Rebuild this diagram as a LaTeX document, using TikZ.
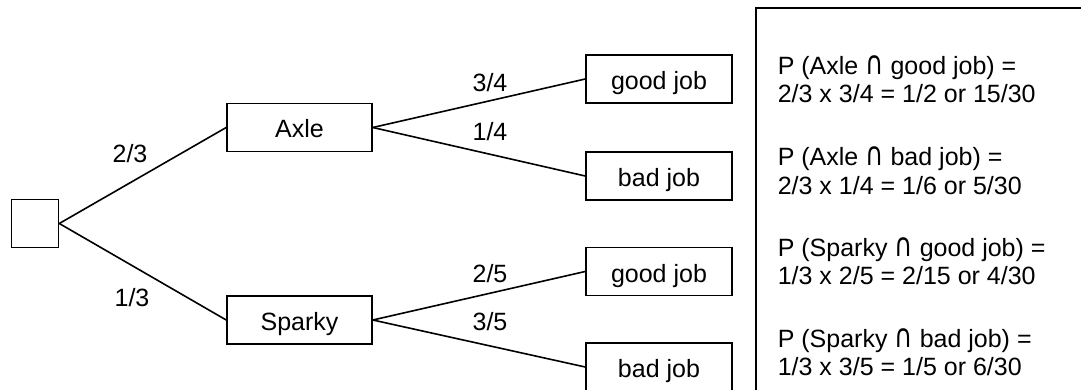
\documentclass[tikz,border=0pt]{standalone}
\usepackage{fontspec}
\setmainfont{Liberation Sans}
\newfontfamily\dejavu{DejaVu Sans}
% intersection sign stretched to cap height
\newcommand{\isect}{\scalebox{1}[1.3]{\dejavu ∩}}
\begin{document}
\begin{tikzpicture}[x=1pt, y=-1pt,
  font=\fontsize{25}{28}\selectfont,
  line width=1.6pt,
  box/.style={draw, rectangle, inner sep=0pt, text height=21pt, text depth=0pt,
              minimum width=146pt, minimum height=48pt},
  prob/.style={inner sep=0pt},
  calc/.style={anchor=base west, inner sep=0pt}]
\useasboundingbox (0,0) rectangle (1081,390);
\clip (0,0) rectangle (1081,390);

% tree nodes
\node[draw, rectangle, minimum width=47pt, minimum height=48pt, inner sep=0pt] (root) at (35,223.5) {};
\node[box, minimum width=145pt] (axle)   at (299.5,127.5) {Axle};
\node[box, minimum width=145pt] (sparky) at (299.5,320)   {Sparky};
\node[box] (ag) at (659,79)    {good job};
\node[box] (ab) at (659,176)   {bad job};
\node[box] (sg) at (659,271.5) {good job};
\node[box] (sb) at (659,367)   {bad job};

% branches
\draw (root.east) -- (axle.west);
\draw (root.east) -- (sparky.west);
\draw (axle.east) -- (ag.west);
\draw (axle.east) -- (ab.west);
\draw (sparky.east) -- (sg.west);
\draw (sparky.east) -- (sb.west);

% branch probabilities
\node[prob] (p23) at (130,154) {2/3};
\node[prob] (p13) at (132,298) {1/3};
\node[prob] (p34) at (490,83)  {3/4};
\node[prob] (p14) at (490,132) {1/4};
\node[prob] (p25) at (490,274) {2/5};
\node[prob] (p35) at (490,322) {3/5};

% results panel
\node[draw, rectangle, anchor=north west, minimum width=360pt, minimum height=420pt] (panel) at (755,7) {};
\node[calc] (t1) at (777,75)  {P (Axle \isect{} good job) =};
\node[calc] (t2) at (777,103) {2/3 x 3/4 = 1/2 or 15/30};
\node[calc] (t3) at (777,166) {P (Axle \isect{} bad job) =};
\node[calc] (t4) at (777,194) {2/3 x 1/4 = 1/6 or 5/30};
\node[calc] (t5) at (777,256) {P (Sparky \isect{} good job) =};
\node[calc] (t6) at (777,284) {1/3 x 2/5 = 2/15 or 4/30};
\node[calc] (t7) at (777,347) {P (Sparky \isect{} bad job) =};
\node[calc] (t8) at (777,375) {1/3 x 3/5 = 1/5 or 6/30};
\end{tikzpicture}
\end{document}
